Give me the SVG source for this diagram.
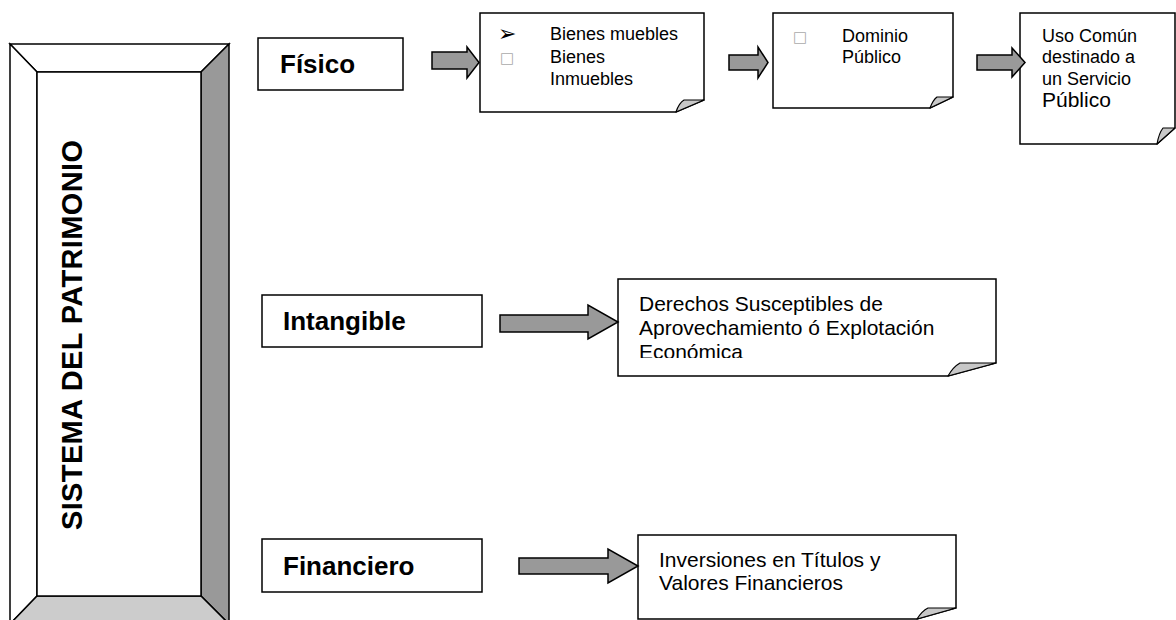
<svg xmlns="http://www.w3.org/2000/svg" width="1176" height="620" viewBox="0 0 1176 620">
  <style>
    .frame { stroke: #000; stroke-width: 1.5; stroke-linejoin: miter; }
    .box { fill: #fff; stroke: #000; stroke-width: 1.5; }
    .note { fill: #fff; stroke: #000; stroke-width: 1.5; stroke-linejoin: miter; }
    .flap { fill: #c8c8c8; stroke: #000; stroke-width: 1.2; stroke-linejoin: round; }
    .arrow { fill: #999; stroke: #000; stroke-width: 1.5; stroke-linejoin: miter; }
    .lbl { font-family: "Liberation Sans", Arial, sans-serif; font-weight: bold; font-size: 26px; fill: #000; }
    .txt { font-family: "Liberation Sans", Arial, sans-serif; font-size: 18px; fill: #000; }
    .txt21 { font-family: "Liberation Sans", Arial, sans-serif; font-size: 21px; fill: #000; }
    .sq { font-family: "DejaVu Sans", sans-serif; font-size: 15px; fill: #aaa; }
    .bul { font-family: "DejaVu Sans", sans-serif; font-size: 22px; fill: #000; }
  </style>
  <defs>
    <clipPath id="clipDerechos">
      <rect x="600" y="270" width="400" height="88"/>
    </clipPath>
  </defs>

  <!-- bevelled frame with vertical title -->
  <g id="sistema">
    <polygon class="frame" fill="#fff" points="10,44 229,44 201,72 37,72"/>
    <polygon class="frame" fill="#fff" points="10,44 37,72 37,596 10,624"/>
    <polygon class="frame" fill="#999" points="229,44 229,624 201,596 201,72"/>
    <polygon class="frame" fill="#ccc" points="37,596 201,596 229,624 10,624"/>
    <rect class="frame" fill="#fff" x="37" y="72" width="164" height="524"/>
    <text class="lbl" style="font-size:29px" transform="translate(82,530) rotate(-90)" textLength="390" lengthAdjust="spacing">SISTEMA DEL PATRIMONIO</text>
  </g>

  <!-- category boxes -->
  <g id="fisico">
    <rect class="box" x="258" y="38" width="145" height="52"/>
    <text class="lbl" x="280" y="73">Físico</text>
  </g>
  <g id="intangible">
    <rect class="box" x="262" y="295" width="220" height="52"/>
    <text class="lbl" x="283" y="330">Intangible</text>
  </g>
  <g id="financiero">
    <rect class="box" x="262" y="539" width="220" height="53"/>
    <text class="lbl" x="283" y="575">Financiero</text>
  </g>

  <!-- folded-corner notes -->
  <g id="bienes">
    <path class="note" d="M480,13 H704 V100 L676,112 H480 Z"/>
    <path class="flap" d="M676,112 Q679,103 684,100 H704 Z"/>
    <text class="bul" x="498" y="41">➢</text>
    <text class="sq" x="500" y="63">□</text>
    <text class="txt" x="550" y="40">Bienes muebles</text>
    <text class="txt" x="550" y="63">Bienes</text>
    <text class="txt" x="550" y="85">Inmuebles</text>
  </g>
  <g id="dominio">
    <path class="note" d="M773,13 H953 V97 L930,108 H773 Z"/>
    <path class="flap" d="M930,108 Q933,100 937,97 H953 Z"/>
    <text class="sq" x="793" y="42">□</text>
    <text class="txt" x="842" y="42">Dominio</text>
    <text class="txt" x="842" y="63">Público</text>
  </g>
  <g id="uso-comun">
    <path class="note" d="M1020,13 H1175 V128 L1157,144 H1020 Z"/>
    <path class="flap" d="M1157,144 Q1159,133 1163,128 H1175 Z"/>
    <text class="txt" x="1042" y="42">Uso Común</text>
    <text class="txt" x="1042" y="63">destinado a</text>
    <text class="txt" x="1042" y="85">un Servicio</text>
    <text class="txt21" x="1042" y="107">Público</text>
  </g>
  <g id="derechos">
    <path class="note" d="M618,279 H996 V363 L948,376 H618 Z"/>
    <path class="flap" d="M948,376 Q953,367 960,363 H996 Z"/>
    <text class="txt21" x="639" y="311">Derechos Susceptibles de</text>
    <text class="txt21" x="639" y="335">Aprovechamiento ó Explotación</text>
    <text class="txt21" x="639" y="359" clip-path="url(#clipDerechos)">Económica</text>
  </g>
  <g id="inversiones">
    <path class="note" d="M638,535 H956 V608 L917,619 H638 Z"/>
    <path class="flap" d="M917,619 Q922,611 928,608 H956 Z"/>
    <text class="txt21" x="659" y="567">Inversiones en Títulos y</text>
    <text class="txt21" x="659" y="590">Valores Financieros</text>
  </g>

  <!-- block arrows -->
  <g id="connectors">
    <path class="arrow" d="M432,52 H467 V47 L479,62.5 L467,78 V69 H432 Z"/>
    <path class="arrow" d="M729,55 H758 V47 L768,62.5 L758,78 V70 H729 Z"/>
    <path class="arrow" d="M977,55 H1012 V48 L1025,62.5 L1012,77 V70 H977 Z"/>
    <path class="arrow" d="M500,315 H588 V305 L618,322 L588,339 V332 H500 Z"/>
    <path class="arrow" d="M519,558 H608 V549 L638,566 L608,583 V574 H519 Z"/>
  </g>
</svg>
